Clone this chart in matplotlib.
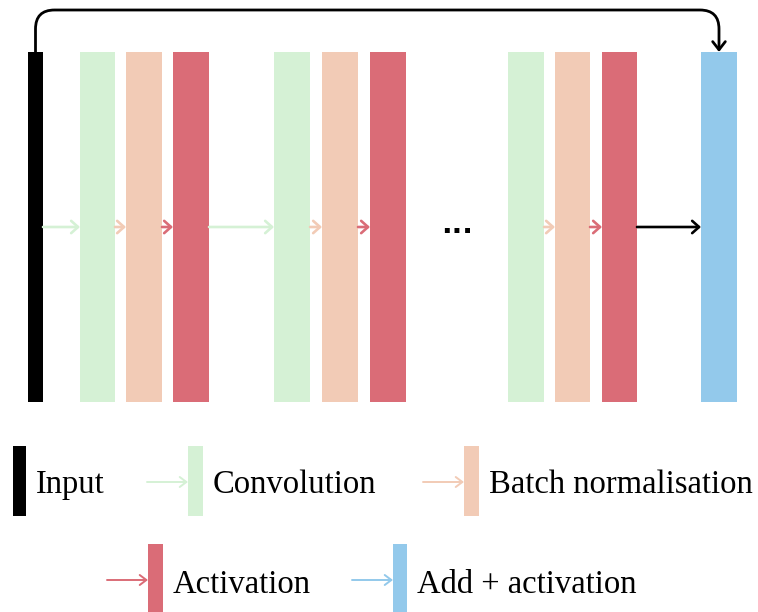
import matplotlib.pyplot as plt
from matplotlib.patches import Rectangle, FancyArrowPatch
from matplotlib.path import Path

# layer sequence of the residual block
layers = ["input", "conv", "bn", "act", "conv", "bn", "act", "conv", "bn", "act", "add"]
layer_left = [28, 80, 126, 173, 274, 322, 370, 508, 555, 602, 701]
layer_width = [15, 35, 36, 36, 36, 36, 36, 36, 35, 35, 36]
gap_after = 6  # index of layer followed by "..."

colors = {
    "input": "#000000",
    "conv": "#d5f1d5",
    "bn": "#f2cbb6",
    "act": "#da6c77",
    "add": "#93c9eb",
}
legend_names = ["Input", "Convolution", "Batch normalisation", "Activation", "Add + activation"]
legend_keys = ["input", "conv", "bn", "act", "add"]

top, bottom = 52, 402
mid = 227

fig = plt.figure(figsize=(7.58, 6.12), dpi=100)
ax = fig.add_axes([0, 0, 1, 1])
ax.set_xlim(0, 758)
ax.set_ylim(612, 0)
ax.axis("off")

for kind, x0, w in zip(layers, layer_left, layer_width):
    ax.add_patch(Rectangle((x0, top), w, bottom - top, color=colors[kind], lw=0))

# arrows between consecutive layers
for i in range(len(layers) - 1):
    if i == gap_after:
        continue
    x_start = layer_left[i] + layer_width[i]
    x_end = layer_left[i + 1]
    nxt = layers[i + 1]
    c = "#000000" if nxt == "add" else colors[nxt]
    ax.add_patch(FancyArrowPatch((x_start, mid), (x_end, mid),
                                 arrowstyle="->,head_length=0.38,head_width=0.34",
                                 mutation_scale=13, color=c, lw=1.9,
                                 shrinkA=0, shrinkB=0))

gx = (layer_left[gap_after] + layer_width[gap_after] + layer_left[gap_after + 1]) / 2
ax.text(gx, mid - 2, "...", ha="center", va="center", fontsize=20,
        fontweight="bold", family="DejaVu Sans")

# skip connection
xa = layer_left[0] + layer_width[0] / 2
xb = layer_left[-1] + layer_width[-1] / 2
yt = 10
r = 19
verts = [(xa, top), (xa, yt + r), (xa, yt), (xa + r, yt), (xb - r, yt),
         (xb, yt), (xb, yt + r), (xb, top)]
codes = [Path.MOVETO, Path.LINETO, Path.CURVE3, Path.CURVE3, Path.LINETO,
         Path.CURVE3, Path.CURVE3, Path.LINETO]
ax.add_patch(FancyArrowPatch(path=Path(verts, codes),
                             arrowstyle="->,head_length=0.45,head_width=0.35",
                             mutation_scale=13, color="black", lw=2.0,
                             shrinkA=0, shrinkB=0))

# legend
serif = ["Liberation Serif", "DejaVu Serif"]
leg_bar_x = [13, 188, 464, 148, 393]
leg_bar_w = [13, 15, 15, 15, 14]
leg_rows = [0, 0, 0, 1, 1]
row_y = [(446, 516), (544, 614)]
row_base = [493, 593]
for name, key, bx, bw, row in zip(legend_names, legend_keys, leg_bar_x, leg_bar_w, leg_rows):
    y0, y1 = row_y[row]
    ax.add_patch(Rectangle((bx, y0), bw, y1 - y0, color=colors[key], lw=0))
    if key != "input":
        ya = (y0 + y1) / 2 + 1
        ax.add_patch(FancyArrowPatch((bx - 41, ya), (bx, ya),
                                     arrowstyle="->,head_length=0.4,head_width=0.3",
                                     mutation_scale=12, color=colors[key], lw=1.4,
                                     shrinkA=0, shrinkB=0))
    ax.text(bx + bw + 10, row_base[row], name, ha="left", va="baseline",
            fontsize=23.5, family=serif)

fig.savefig("out.png", dpi=100)
